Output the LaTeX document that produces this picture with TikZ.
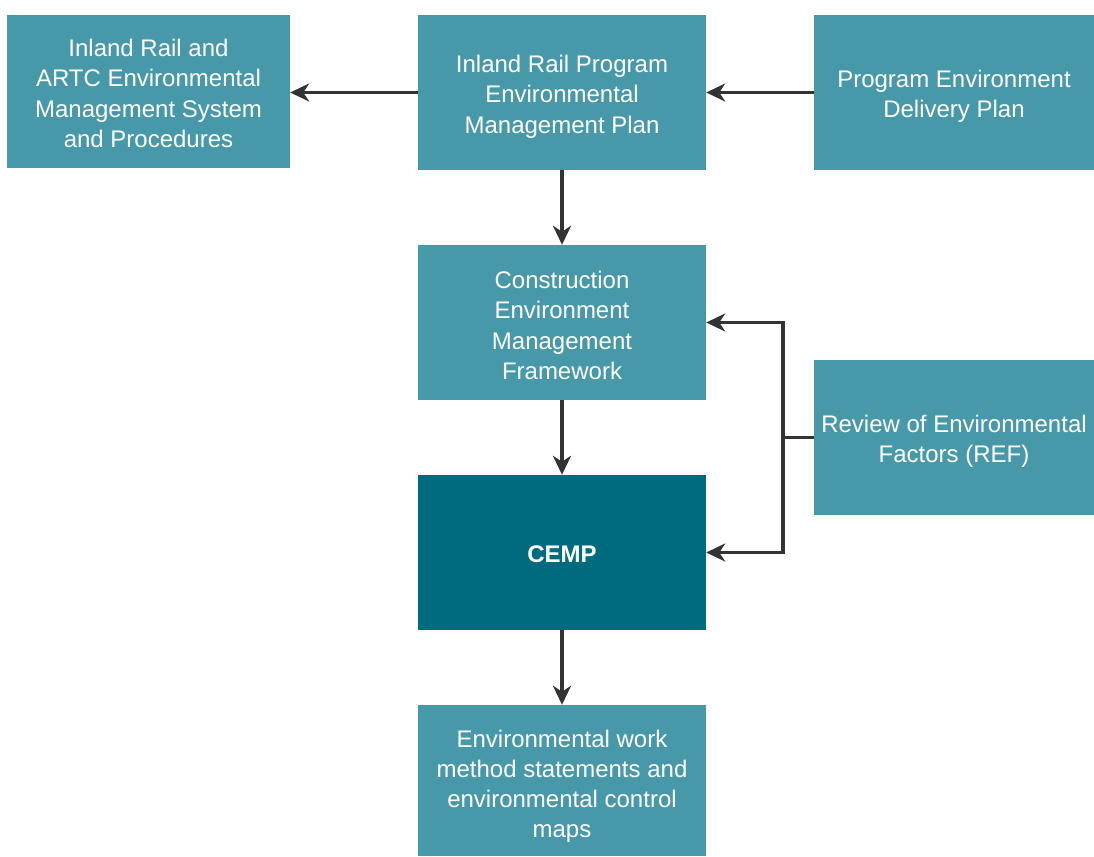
\documentclass[tikz,border=0pt]{standalone}
\usepackage{fontspec}
\setmainfont{Liberation Sans}
\usetikzlibrary{arrows.meta}
\definecolor{lteal}{HTML}{4799AA}
\definecolor{dteal}{HTML}{006B7F}
\definecolor{arrowc}{HTML}{333333}
\begin{document}
\begin{tikzpicture}[x=1pt,y=-1pt,
  box/.style={rectangle,fill=lteal,inner sep=0pt},
  txt/.style={text=white,align=center,inner sep=0pt,
    font=\fontsize{24}{30.5}\selectfont},
  arr/.style={draw=arrowc,line width=3.8pt,-{Stealth[length=19pt,width=18pt,inset=6pt]}},
  thin/.style={draw=arrowc,line width=2.5pt}]
\useasboundingbox (0,0) rectangle (1094,856);
\node[box,minimum width=283pt,minimum height=153pt] (ems) at (148.5,91.5) {};
\node[txt] (ems-t) at ([yshift=-2pt]ems.center)
  {Inland Rail and\\ARTC Environmental\\Management System\\and Procedures};
\node[box,minimum width=288pt,minimum height=155pt] (pemp) at (562,92.5) {};
\node[txt] (pemp-t) at ([yshift=-4pt]pemp.center)
  {Inland Rail Program\\Environmental\\Management Plan};
\node[box,minimum width=280pt,minimum height=155pt] (pedp) at (954,92.5) {};
\node[txt] (pedp-t) at ([yshift=-4pt]pedp.center)
  {Program Environment\\Delivery Plan};
\node[box,minimum width=288pt,minimum height=155pt] (cemf) at (562,322.5) {};
\node[txt] (cemf-t) at ([yshift=-3pt]cemf.center)
  {Construction\\Environment\\Management\\Framework};
\node[box,minimum width=280pt,minimum height=155pt] (ref) at (954,437.5) {};
\node[txt] (ref-t) at ([yshift=-4pt]ref.center)
  {Review of Environmental\\Factors (REF)};
\node[box,fill=dteal,minimum width=288pt,minimum height=155pt] (cemp) at (562,552.5) {};
\node[txt] (cemp-t) at ([yshift=-2pt]cemp.center) {\bfseries CEMP};
\node[box,minimum width=288pt,minimum height=151pt] (ewms) at (562,780.5) {};
\node[txt,font=\fontsize{24}{30}\selectfont] (ewms-t) at ([yshift=-6pt]ewms.center)
  {Environmental work\\method statements and\\environmental control\\maps};
\coordinate (j) at (783,437.5);
\draw[arr] (pemp.west) -- (pemp.west -| ems.east);
\draw[arr] (pedp.west) -- (pedp.west -| pemp.east);
\draw[arr] (pemp.south) -- (cemf.north);
\draw[arr] (cemf.south) -- (cemp.north);
\draw[arr] (cemp.south) -- (ewms.north);
\draw[thin] (ref.west) -- (j);
\draw[arr] (j) |- (cemf.east);
\draw[arr] (j) |- (cemp.east);
\end{tikzpicture}
\end{document}
